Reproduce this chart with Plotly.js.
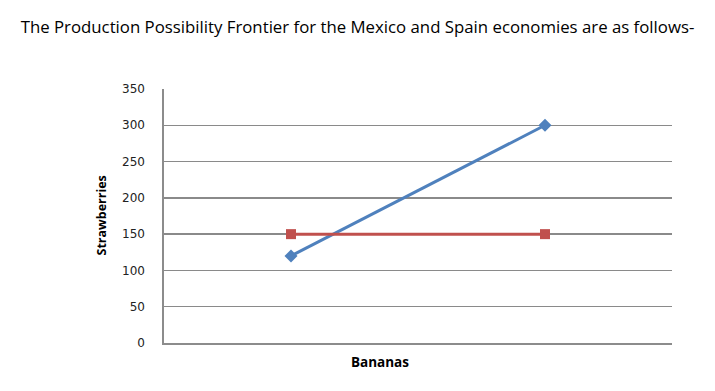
<!DOCTYPE html>
<html>
<head>
<meta charset="utf-8">
<script src="https://cdn.plot.ly/plotly-3.0.1.min.js"></script>
<style>html,body{margin:0;padding:0;background:#fff;}#chart{width:715px;height:391px;}</style>
</head>
<body>
<div id="chart"></div>
<script>
const bananas = [1, 2];
const mexicoStrawberries = [120, 300];
const spainStrawberries = [150, 150];
const yTicks = [0, 50, 100, 150, 200, 250, 300, 350];
const titleText = "The Production Possibility Frontier for the Mexico and Spain economies are as follows-";

const traces = [
  {x: bananas, y: mexicoStrawberries, name: "Mexico", mode: "lines+markers",
   line: {color: "#4F81BD", width: 3}, marker: {symbol: "diamond", size: 10, color: "#4F81BD"}},
  {x: bananas, y: spainStrawberries, name: "Spain", mode: "lines+markers",
   line: {color: "#C0504D", width: 3}, marker: {symbol: "square", size: 10, color: "#C0504D"}}
];

const layout = {
  width: 715, height: 391,
  margin: {l: 164, r: 43, t: 89, b: 48},
  paper_bgcolor: "#fff", plot_bgcolor: "#fff",
  showlegend: false,
  title: {text: titleText, x: 0.5, xanchor: "center", y: 0.93, yanchor: "middle",
          font: {family: "Open Sans, sans-serif", size: 16.8, color: "#000"}},
  xaxis: {range: [0.5, 2.5], showticklabels: false, ticks: "", showgrid: false, zeroline: false,
          showline: true, linecolor: "#8c8c8c", linewidth: 1.6, fixedrange: true},
  yaxis: {range: [0, 350], tickvals: yTicks, ticktext: yTicks.map(String), showgrid: true,
          gridcolor: "#8a8a8a", gridwidth: 1.4, zeroline: false, showline: true,
          linecolor: "#8c8c8c", linewidth: 1.6, ticks: "outside", ticklen: 15, tickcolor: "rgba(0,0,0,0)",
          tickfont: {family: "DejaVu Sans, sans-serif", size: 12, color: "#222"}},
  annotations: [
    {text: "<b>Strawberries</b>", xref: "paper", yref: "paper", x: -0.125, y: 0.5, xanchor: "center", yanchor: "middle",
     textangle: -90, showarrow: false, font: {family: "Open Sans, sans-serif", size: 12.5, color: "#000"}},
    {text: "<b>Bananas</b>", xref: "paper", yref: "paper", x: 0.425, y: -0.075, xanchor: "center", yanchor: "middle",
     showarrow: false, font: {family: "Open Sans, sans-serif", size: 13.5, color: "#000"}}
  ]
};

Plotly.newPlot("chart", traces, layout, {displayModeBar: false, staticPlot: true});
</script>
</body>
</html>
